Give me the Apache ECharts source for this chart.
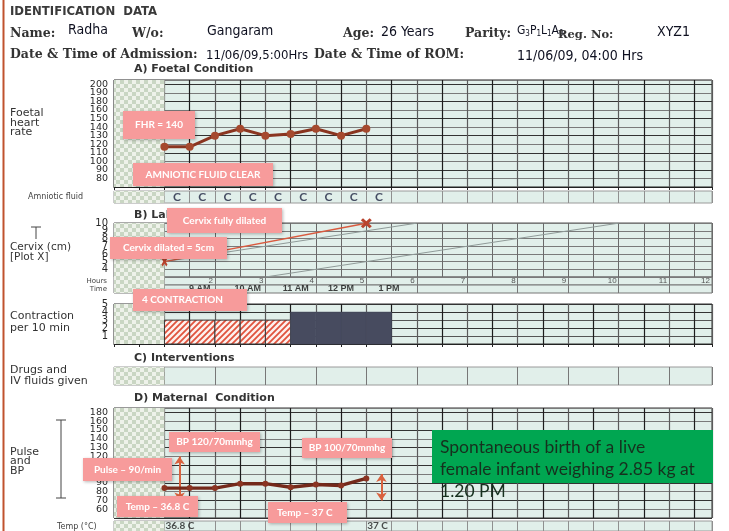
<!DOCTYPE html>
<html>
<head>
<meta charset="utf-8">
<script src="https://cdn.jsdelivr.net/npm/echarts@6/dist/echarts.min.js"></script>
<style>
html,body{margin:0;padding:0;background:#fff;}
#chart{width:729px;height:531px;}
</style>
</head>
<body>
<div id="chart"></div>
<script>
// ---------- Partograph readings ----------
const halfHourSlots = [1, 1.5, 2, 2.5, 3, 3.5, 4, 4.5, 5];          // hours since start of chart
const fhrValues = [117, 117, 130, 138, 130, 132, 138, 130, 138];     // foetal heart rate (bpm)
const amnioticFluid = ['C', 'C', 'C', 'C', 'C', 'C', 'C', 'C', 'C']; // C = clear
const dilationHours = [1, 5];
const dilationCm = [5, 10];
const alertLine = [[1, 5], [6, 10]];
const actionLine = [[3, 3], [10, 10]];
const contractionCount = [3, 3, 3, 3, 3, 4, 4, 4, 4];
const contractionStrong = [0, 0, 0, 0, 0, 1, 1, 1, 1];
const pulseValues = [84, 84, 84, 89, 89, 85, 88, 87, 95];
const bpHours = [1.3, 5.3];
const bpSystolic = [120, 100];
const bpDiastolic = [70, 70];
const tempHours = [1, 5];
const tempValues = [36.8, 37];
const clockHours = [1.7, 2.65, 3.6, 4.5, 5.45];
const clockLabels = ['9 AM', '10 AM', '11 AM', '12 PM', '1 PM'];
const hourLabels = ['2', '3', '4', '5', '6', '7', '8', '9', '10', '11', '12'];
const fhrTickLabels = ['80', '90', '100', '110', '120', '130', '140', '150', '160', '180', '190', '200'];
const cervixTickLabels = ['4', '5', '6', '7', '8', '9', '10'];
const contractionTickLabels = ['1', '2', '3', '4', '5'];
const maternalTickLabels = ['60', '70', '80', '90', '100', '110', '120', '130', '140', '150', '160', '180'];

// ---------- styling ----------
const MINT = '#e1efea';
const SANS = '"DejaVu Sans", Arial, sans-serif';
const LSANS = '"Liberation Sans", Arial, sans-serif';
const NARROW = '"Liberation Sans Narrow", "DejaVu Sans Condensed", Lato, sans-serif';
const SERIF = '"DejaVu Serif", "Liberation Serif", serif';
const NOTE = 'Lato, "Open Sans", sans-serif';
const PINK = '#f79b9b';
const XMAX = 11.85;

function makeChecker() {
  const c = document.createElement('canvas');
  c.width = 8; c.height = 8;
  const g = c.getContext('2d');
  g.fillStyle = '#eef2ea'; g.fillRect(0, 0, 8, 8);
  g.fillStyle = '#c9d6c3'; g.fillRect(0, 0, 4, 4); g.fillRect(4, 4, 4, 4);
  return c;
}
function makeHatch() {
  const c = document.createElement('canvas');
  c.width = 6; c.height = 6;
  const g = c.getContext('2d');
  g.fillStyle = '#fdf1ee'; g.fillRect(0, 0, 6, 6);
  g.strokeStyle = '#e0533d'; g.lineWidth = 1.8;
  g.beginPath();
  g.moveTo(0, 6); g.lineTo(6, 0);
  g.moveTo(-1, 1); g.lineTo(1, -1);
  g.moveTo(5, 7); g.lineTo(7, 5);
  g.stroke();
  return c;
}
const checker = makeChecker();
const hatch = makeHatch();

// panel layout
const panels = [
  { top: 80, height: 107, border: '#222', v: 'dark' },      // 0 foetal heart rate
  { top: 191, height: 12, border: '#9a9a9a', v: 'light' },  // 1 amniotic fluid
  { top: 223, height: 54, border: '#555', v: 'cervix' },    // 2 cervix
  { top: 277, height: 8, border: '#777', v: 'hour' },       // 3 hours
  { top: 285, height: 8, border: '#777', v: 'hour' },       // 4 time
  { top: 304, height: 40, border: '#333', v: 'dark' },      // 5 contractions
  { top: 367, height: 18, border: '#9a9a9a', v: 'hour' },   // 6 interventions
  { top: 408, height: 110, border: '#333', v: 'dark' },     // 7 pulse & BP
  { top: 521, height: 10, border: '#9a9a9a', v: 'light' }   // 8 temperature
];
const vLines = {
  dark: { color: ['#5a5a5a', '#1c1c1c'], width: 1.2 },
  light: { color: ['#8f8f8f', '#8f8f8f'], width: 1 },
  cervix: { color: ['#6a6a6a', '#6a6a6a'], width: 1 },
  hour: { color: ['#777', 'rgba(0,0,0,0)'], width: 1 }
};

function tickFrom(labels, base, step) {
  return function (v) {
    const idx = Math.round((v - base) / step);
    if (idx < 0 || idx >= labels.length || Math.abs(v - base - idx * step) > 1e-6) return '';
    return labels[idx];
  };
}

const grids = panels.map(p => ({
  left: 114, right: 17, top: p.top, height: p.height,
  show: true, backgroundColor: MINT, borderColor: p.border, borderWidth: 1,
  containLabel: false, outerBoundsMode: 'none'
}));

const xAxes = panels.map((p, i) => ({
  type: 'value', gridIndex: i, min: 0, max: XMAX, interval: 0.5,
  axisLine: { show: i === 0 || i === 5, onZero: false, lineStyle: { color: '#222', width: 1 } },
  axisTick: { show: i === 0 || i === 5, length: 3, lineStyle: { color: '#222' } },
  axisLabel: { show: false },
  splitLine: { show: true, lineStyle: vLines[p.v] }
}));
// hour numbers printed inside the "Hours" row
xAxes[3].axisLabel = {
  show: true, inside: true, margin: 0, align: 'right', padding: [0, 2, 0, 0],
  fontSize: 8, color: '#555', fontFamily: LSANS, showMaxLabel: true,
  formatter: function (v) {
    if (v > 11.5) return hourLabels[hourLabels.length - 1];
    return tickFrom(hourLabels, 2, 1)(v);
  }
};

const hiddenY = i => ({ type: 'value', gridIndex: i, min: 0, max: 1, show: false, splitLine: { show: false } });
const labelStyle = { fontSize: 9.5, color: '#2a2a2a', fontFamily: SANS, margin: 6 };
const yAxes = [
  { type: 'value', gridIndex: 0, min: 70, max: 195, interval: 10,
    axisLine: { show: false }, axisTick: { show: false },
    axisLabel: Object.assign({ formatter: tickFrom(fhrTickLabels, 80, 10) }, labelStyle),
    splitLine: { lineStyle: { color: ['#333', '#7a7a7a'], width: 1.1 } } },
  hiddenY(1),
  { type: 'value', gridIndex: 2, min: 3, max: 10.02, interval: 1,
    axisLine: { show: false }, axisTick: { show: false },
    axisLabel: Object.assign({ formatter: tickFrom(cervixTickLabels, 4, 1) }, labelStyle, { fontSize: 10 }),
    splitLine: { lineStyle: { color: '#7a7a7a', width: 1 } } },
  hiddenY(3),
  hiddenY(4),
  { type: 'value', gridIndex: 5, min: 0, max: 5.02, interval: 1,
    axisLine: { show: false }, axisTick: { show: false },
    axisLabel: Object.assign({ formatter: tickFrom(contractionTickLabels, 1, 1) }, labelStyle, { fontSize: 10 }),
    splitLine: { lineStyle: { color: ['#333', '#555'], width: 1 } } },
  hiddenY(6),
  { type: 'value', gridIndex: 7, min: 50, max: 175, interval: 10,
    axisLine: { show: false }, axisTick: { show: false },
    axisLabel: Object.assign({ formatter: tickFrom(maternalTickLabels, 60, 10) }, labelStyle),
    splitLine: { lineStyle: { color: ['#333', '#7a7a7a'], width: 1.1 } } },
  hiddenY(8)
];

// checkered first-hour block in every panel
const checkerSeries = panels.map((p, i) => ({
  type: 'scatter', xAxisIndex: i, yAxisIndex: i, data: [], silent: true, z: 1,
  markArea: {
    silent: true,
    itemStyle: { color: { image: checker, repeat: 'repeat' }, borderWidth: 0 },
    data: [[{ xAxis: 0 }, { xAxis: 1 }]]
  }
}));

const xMark = 'path://M0,2 L2,0 L5,3 L8,0 L10,2 L7,5 L10,8 L8,10 L5,7 L2,10 L0,8 L3,5 Z';

const series = checkerSeries.concat([
  // foetal heart rate
  { type: 'line', xAxisIndex: 0, yAxisIndex: 0, z: 5,
    data: halfHourSlots.map((h, i) => [h, fhrValues[i]]),
    symbol: 'circle', symbolSize: 8,
    lineStyle: { color: '#8a3520', width: 3 },
    itemStyle: { color: '#a5492e' } },
  // amniotic fluid letters
  { type: 'scatter', xAxisIndex: 1, yAxisIndex: 1, z: 5, symbolSize: 0,
    data: halfHourSlots.map((h, i) => [h + 0.25, 0.5, amnioticFluid[i]]),
    label: { show: true, position: 'inside', formatter: p => p.data[2],
      fontFamily: NOTE, fontWeight: 'bold', fontSize: 12, color: '#1d2340' } },
  // alert & action lines
  { type: 'line', xAxisIndex: 2, yAxisIndex: 2, z: 3, data: alertLine, symbol: 'none',
    lineStyle: { color: '#8f9a98', width: 1 } },
  { type: 'line', xAxisIndex: 2, yAxisIndex: 2, z: 3, data: actionLine, symbol: 'none',
    lineStyle: { color: '#8f9a98', width: 1 } },
  // cervical dilation
  { type: 'line', xAxisIndex: 2, yAxisIndex: 2, z: 6,
    data: dilationHours.map((h, i) => ({ value: [h, dilationCm[i]], symbolSize: i === 0 ? [6, 10] : [11, 10] })),
    symbol: xMark, lineStyle: { color: '#d95a3f', width: 1.5 },
    itemStyle: { color: '#b9432d' } },
  // clock times
  { type: 'scatter', xAxisIndex: 4, yAxisIndex: 4, z: 5, symbolSize: 0,
    data: clockHours.map((h, i) => [h, 0.5, clockLabels[i]]),
    label: { show: true, position: 'inside', formatter: p => p.data[2],
      fontFamily: LSANS, fontWeight: 'bold', fontSize: 9, color: '#111' } },
  // contractions per 10 minutes
  { type: 'custom', xAxisIndex: 5, yAxisIndex: 5, z: 4,
    data: halfHourSlots.map((h, i) => [h, h + 0.5, contractionCount[i], contractionStrong[i]]),
    renderItem: function (params, api) {
      const a = api.coord([api.value(0), 0]);
      const b = api.coord([api.value(1), api.value(2)]);
      const strong = api.value(3) === 1;
      return {
        type: 'rect',
        shape: { x: a[0], y: b[1], width: b[0] - a[0], height: a[1] - b[1] },
        style: strong
          ? { fill: '#474b5f', stroke: '#474b5f', lineWidth: 0.6 }
          : { fill: { image: hatch, repeat: 'repeat' }, stroke: '#3a3a3a', lineWidth: 1 }
      };
    } },
  // pulse
  { type: 'line', xAxisIndex: 7, yAxisIndex: 7, z: 5,
    data: halfHourSlots.map((h, i) => [h, pulseValues[i]]),
    symbol: 'circle', symbolSize: 6,
    lineStyle: { color: '#74291a', width: 3.4 },
    itemStyle: { color: '#8a3422' } },
  // blood pressure arrows
  { type: 'scatter', xAxisIndex: 7, yAxisIndex: 7, z: 6, data: [], silent: true,
    markLine: {
      silent: true, symbol: ['arrow', 'arrow'], symbolSize: 8, animation: false,
      label: { show: false },
      lineStyle: { color: '#d9623f', width: 2, type: 'solid' },
      data: bpHours.map((h, i) => [{ coord: [h, bpSystolic[i]] }, { coord: [h, bpDiastolic[i]] }])
    } },
  // temperature
  { type: 'scatter', xAxisIndex: 8, yAxisIndex: 8, z: 5, symbolSize: 0,
    data: tempHours.map((h, i) => [h, 0.5, tempValues[i]]),
    label: { show: true, position: 'right', distance: 1, formatter: p => p.data[2] + ' C',
      fontFamily: NOTE, fontWeight: 'bold', fontSize: 10, color: '#222' } }
]);

// ---------- printed form text & notes ----------
const graphics = [];
function txt(x, y, s, font, color, align) {
  graphics.push({ type: 'text', x: x, y: y, z: 50,
    style: { text: s, font: font, fill: color || '#333', align: align || 'left', verticalAlign: 'middle' } });
}
function seg(x1, y1, x2, y2, color, w) {
  graphics.push({ type: 'line', z: 50, shape: { x1: x1, y1: y1, x2: x2, y2: y2 },
    style: { stroke: color || '#444', lineWidth: w || 1 } });
}
function note(x, y, w, h, s, align) {
  graphics.push({ type: 'rect', z: 100, shape: { x: x, y: y, width: w, height: h },
    style: { fill: PINK, shadowBlur: 3, shadowOffsetX: 1, shadowOffsetY: 1, shadowColor: 'rgba(0,0,0,0.28)' } });
  graphics.push({ type: 'text', z: 101, x: align === 'left' ? x + 9 : x + w / 2, y: y + h / 2,
    style: { text: s, font: 'bold 10px ' + NOTE, fill: '#fff', align: align || 'center', verticalAlign: 'middle' } });
}

const LBL = 'bold 12.5px ' + SERIF;
const VAL = '14px ' + NARROW;
const VAL2 = '13px ' + NARROW;
const INK = '#0e1020';

// page edge rule
seg(3.5, 0, 3.5, 531, '#c0522e', 2);

// identification block
txt(10, 12, 'IDENTIFICATION  DATA', 'bold 13px ' + NARROW, '#3a3a3a');
txt(10, 34, 'Name:', LBL, '#333');
txt(68, 30, 'Radha', VAL, INK);
txt(132, 34, 'W/o:', LBL, '#333');
txt(207, 31, 'Gangaram', VAL, INK);
txt(343, 34, 'Age:', LBL, '#333');
txt(381, 32, '26 Years', VAL, INK);
txt(465, 34, 'Parity:', LBL, '#333');
graphics.push({ type: 'text', x: 517, y: 23, z: 50, style: {
  text: '{m|G}{s|3}{m|P}{s|1}{m|L}{s|1}{m|A}{s|0}', fill: INK,
  rich: { m: { fontSize: 12, fontFamily: NARROW, fill: INK }, s: { fontSize: 8, fontFamily: NARROW, fill: INK, padding: [7, 0, 0, 0] } } } });
txt(558, 35, 'Reg. No:', 'bold 11.5px ' + SERIF, '#333');
txt(657, 32, 'XYZ1', VAL, INK);
txt(10, 55, 'Date & Time of Admission:', LBL, '#333');
txt(206, 56, '11/06/09,5:00Hrs', VAL2, INK);
txt(314, 55, 'Date & Time of ROM:', LBL, '#333');
txt(517, 56, '11/06/09, 04:00 Hrs', VAL, INK);

// panel captions
const BODY = '11px ' + SANS;
const HEAD = 'bold 11px ' + SANS;
const SMALL = '8px ' + SANS;
txt(134, 69, 'A) Foetal Condition', HEAD, '#333');
txt(10, 113, 'Foetal', BODY); txt(10, 123, 'heart', BODY); txt(10, 132, 'rate', BODY);
txt(28, 197, 'Amniotic fluid', SMALL, '#444');
txt(134, 215, 'B) Labour', HEAD, '#333');
txt(10, 247, 'Cervix (cm)', '10.5px ' + SANS); txt(10, 257, '[Plot X]', '10.5px ' + SANS);
seg(36, 227, 36, 239); seg(31, 227, 41, 227);
txt(107, 281, 'Hours', '7px ' + SANS, '#444', 'right');
txt(107, 289, 'Time', '7px ' + SANS, '#444', 'right');
txt(10, 316, 'Contraction', BODY); txt(10, 328, 'per 10 min', BODY);
txt(134, 358, 'C) Interventions', HEAD, '#333');
txt(10, 370, 'Drugs and', BODY); txt(10, 381, 'IV fluids given', BODY);
txt(134, 398, 'D) Maternal  Condition', HEAD, '#333');
txt(10, 452, 'Pulse', BODY); txt(10, 461, 'and', BODY); txt(10, 471, 'BP', BODY);
seg(61, 420, 61, 498); seg(56, 420, 66, 420); seg(56, 498, 66, 498);
txt(57, 527, 'Temp (°C)', SMALL, '#444');

// annotation notes
note(123, 111, 72, 28, 'FHR = 140');
note(133, 163, 140, 23, 'AMNIOTIC FLUID CLEAR');
note(167, 208, 115, 25, 'Cervix fully dilated');
note(110, 237, 117, 22, 'Cervix dilated = ' + dilationCm[0] + 'cm');
note(133, 289, 114, 22, Math.max.apply(null, contractionCount) + ' CONTRACTION', 'left');
note(169, 432, 91, 20, 'BP ' + bpSystolic[0] + '/' + bpDiastolic[0] + 'mmhg');
note(302, 438, 90, 20, 'BP ' + bpSystolic[1] + '/' + bpDiastolic[1] + 'mmhg');
note(83, 458, 89, 23, 'Pulse – 90/min');
note(117, 496, 81, 21, 'Temp – ' + tempValues[0] + ' C');
note(268, 502, 79, 21, 'Temp – ' + tempValues[1] + ' C', 'left');

// outcome box
graphics.push({ type: 'rect', z: 100, shape: { x: 432, y: 430, width: 281, height: 53 }, style: { fill: '#00a651' } });
graphics.push({ type: 'text', x: 440, y: 436, z: 101, style: {
  text: 'Spontaneous birth of a live\nfemale infant weighing 2.85 kg at\n1.20 PM',
  font: '17.5px ' + NOTE, fill: '#16301e', lineHeight: 22, align: 'left', verticalAlign: 'top' } });

const chart = echarts.init(document.getElementById('chart'), null, { renderer: 'canvas', width: 729, height: 531 });
chart.setOption({
  animation: false,
  backgroundColor: '#ffffff',
  grid: grids,
  xAxis: xAxes,
  yAxis: yAxes,
  series: series,
  graphic: { elements: graphics }
});
</script>
</body>
</html>
